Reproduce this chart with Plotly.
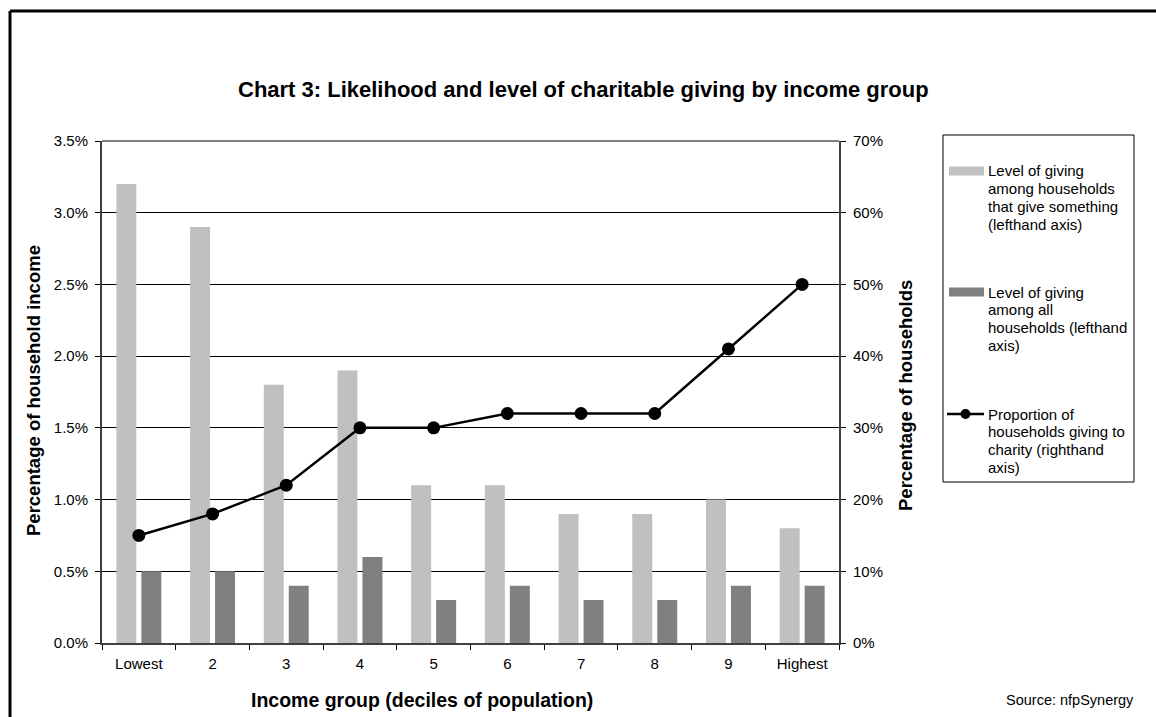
import plotly.graph_objects as go

# Income deciles
groups = ["Lowest", "2", "3", "4", "5", "6", "7", "8", "9", "Highest"]

# Level of giving (% of household income) — lefthand axis
giving_givers = [3.2, 2.9, 1.8, 1.9, 1.1, 1.1, 0.9, 0.9, 1.0, 0.8]
giving_all = [0.5, 0.5, 0.4, 0.6, 0.3, 0.4, 0.3, 0.3, 0.4, 0.4]

# Proportion of households giving (%) — righthand axis
prop_giving = [15, 18, 22, 30, 30, 32, 32, 32, 41, 50]

legend_texts = [
    ["Level of giving", "among households", "that give something", "(lefthand axis)"],
    ["Level of giving", "among all", "households (lefthand", "axis)"],
    ["Proportion of", "households giving to", "charity (righthand", "axis)"],
]

FONT = "Liberation Sans, Arial, sans-serif"
LIGHT = "#C0C0C0"
DARK = "#808080"
AXIS = "#404040"

W, H = 1156, 717
L, R, T, B = 102, 839, 141, 643


def px(x):
    return (x - L) / (R - L)


def py(y):
    return (B - y) / (B - T)


fig = go.Figure()
fig.add_trace(go.Bar(
    x=groups, y=giving_givers, marker=dict(color=LIGHT, line=dict(width=0)),
    width=0.271, offset=-0.305, yaxis="y", showlegend=False,
    name="Level of giving among households that give something (lefthand axis)",
))
fig.add_trace(go.Bar(
    x=groups, y=giving_all, marker=dict(color=DARK, line=dict(width=0)),
    width=0.271, offset=0.034, yaxis="y", showlegend=False,
    name="Level of giving among all households (lefthand axis)",
))
fig.add_trace(go.Scatter(
    x=groups, y=prop_giving, yaxis="y2", mode="lines+markers",
    line=dict(color="black", width=2.5),
    marker=dict(color="black", size=13, symbol="circle"),
    showlegend=False,
    name="Proportion of households giving to charity (righthand axis)",
))

shapes = []
annotations = []

# outer frame (top and left edges)
shapes.append(dict(type="line", xref="paper", yref="paper",
                   x0=px(10), x1=px(W + 5), y0=py(11), y1=py(11),
                   line=dict(color="black", width=3)))
shapes.append(dict(type="line", xref="paper", yref="paper",
                   x0=px(10), x1=px(10), y0=py(11), y1=py(H + 5),
                   line=dict(color="black", width=3)))

# top edge of the plot area
shapes.append(dict(type="line", xref="paper", yref="paper",
                   x0=0, x1=1, y0=1, y1=1,
                   line=dict(color="#808080", width=2)))

# legend box
shapes.append(dict(type="rect", xref="paper", yref="paper",
                   x0=px(943), x1=px(1134), y0=py(135), y1=py(482),
                   line=dict(color="black", width=1), fillcolor="white",
                   layer="below"))

entry_y = [171, 292, 414]
# bar swatches
for yc, col in zip(entry_y[:2], [LIGHT, DARK]):
    shapes.append(dict(type="rect", xref="paper", yref="paper",
                       x0=px(949), x1=px(984), y0=py(yc - 4.5), y1=py(yc + 4.5),
                       line=dict(width=0), fillcolor=col))
# line swatch
yc = entry_y[2]
shapes.append(dict(type="line", xref="paper", yref="paper",
                   x0=px(947), x1=px(984), y0=py(yc), y1=py(yc),
                   line=dict(color="black", width=2.5)))
shapes.append(dict(type="circle", xref="paper", yref="paper",
                   x0=px(960.5), x1=px(970.5), y0=py(yc - 5), y1=py(yc + 5),
                   line=dict(color="black", width=0), fillcolor="black"))

for y0, lines in zip(entry_y, legend_texts):
    for i, t in enumerate(lines):
        annotations.append(dict(
            text=t, xref="paper", yref="paper", x=px(986), y=py(y0 + i * 17.8),
            xanchor="left", yanchor="middle", showarrow=False,
            font=dict(family=FONT, size=15, color="black")))

# chart title
annotations.append(dict(
    text="<b>Chart 3: Likelihood and level of charitable giving by income group</b>",
    xref="paper", yref="paper", x=px(583), y=py(89), xanchor="center",
    yanchor="middle", showarrow=False,
    font=dict(family=FONT, size=22, color="black")))

# axis titles
annotations.append(dict(
    text="<b>Percentage of household income</b>", xref="paper", yref="paper",
    x=px(33), y=py(391), textangle=-90, xanchor="center", yanchor="middle",
    showarrow=False, font=dict(family=FONT, size=18.5, color="black")))
annotations.append(dict(
    text="<b>Percentage of households</b>", xref="paper", yref="paper",
    x=px(905), y=py(396), textangle=-90, xanchor="center", yanchor="middle",
    showarrow=False, font=dict(family=FONT, size=18.5, color="black")))
annotations.append(dict(
    text="<b>Income group (deciles of population)</b>", xref="paper", yref="paper",
    x=px(422), y=py(700), xanchor="center", yanchor="middle",
    showarrow=False, font=dict(family=FONT, size=19.5, color="black")))
annotations.append(dict(
    text="Source: nfpSynergy", xref="paper", yref="paper",
    x=px(1136), y=py(700), xanchor="right", yanchor="middle",
    showarrow=False, font=dict(family=FONT, size=14.5, color="black")))

fig.update_layout(
    width=W, height=H,
    margin=dict(l=L, r=W - R, t=T, b=H - B, pad=0),
    paper_bgcolor="white", plot_bgcolor="white",
    barmode="overlay",
    font=dict(family=FONT, size=15, color="black"),
    xaxis=dict(
        type="category", range=[-0.5, 9.5], tickson="boundaries",
        ticks="outside", ticklen=5, tickcolor="black", tickwidth=1,
        showline=True, linecolor=AXIS, linewidth=2, showgrid=False,
        tickfont=dict(family=FONT, size=15, color="black"),
        ticklabelstandoff=6,
    ),
    yaxis=dict(
        range=[0, 3.5], dtick=0.5, tickformat=".1f", ticksuffix="%",
        ticks="outside", ticklen=5, tickcolor="black", tickwidth=1,
        showline=True, linecolor=AXIS, linewidth=2,
        showgrid=True, gridcolor="black", gridwidth=1, zeroline=False,
        tickfont=dict(family=FONT, size=15, color="black"),
        ticklabelstandoff=4,
    ),
    yaxis2=dict(
        range=[0, 70], dtick=10, ticksuffix="%", overlaying="y", side="right",
        ticks="outside", ticklen=5, tickcolor="black", tickwidth=1,
        showline=True, linecolor=AXIS, linewidth=2,
        showgrid=False, zeroline=False,
        tickfont=dict(family=FONT, size=15, color="black"),
        ticklabelstandoff=4,
    ),
    shapes=shapes,
    annotations=annotations,
)

fig.write_html("out.html")
